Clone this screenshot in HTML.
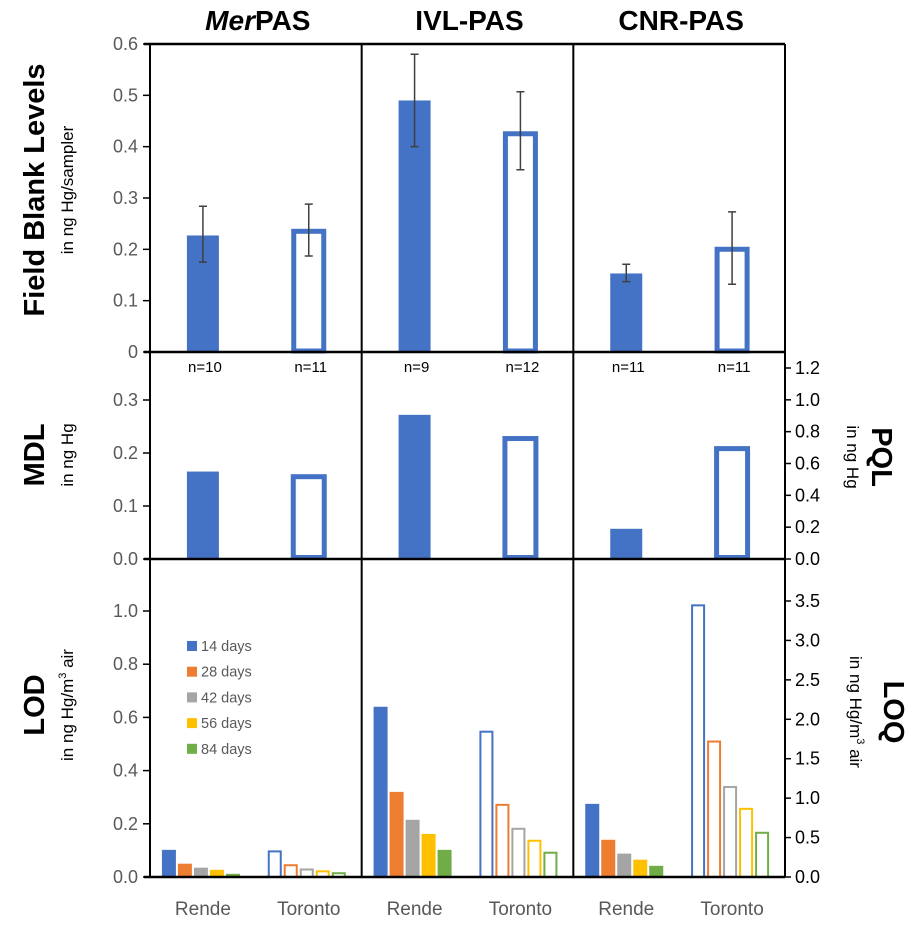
<!DOCTYPE html>
<html><head><meta charset="utf-8"><style>
html,body{margin:0;padding:0;background:#fff;}
svg{display:block;font-family:"Liberation Sans",sans-serif;}
</style></head><body>
<svg id="c" width="920" height="925" viewBox="0 0 920 925" xmlns="http://www.w3.org/2000/svg"></svg>
<script>
const samplers = ["MerPAS","IVL-PAS","CNR-PAS"];
const sites = ["Rende","Toronto"];
const blankMean = [[0.227,0.240],[0.490,0.430],[0.153,0.205]];
const blankLow = [[0.175,0.187],[0.400,0.355],[0.137,0.132]];
const blankHigh = [[0.284,0.288],[0.580,0.507],[0.171,0.273]];
const blankN = [["n=10","n=11"],["n=9","n=12"],["n=11","n=11"]];
const mdl = [[0.165,0.160],[0.272,0.232],[0.057,0.213]];
const durations = ["14 days","28 days","42 days","56 days","84 days"];
const lodRende = [[0.102,0.050,0.035,0.027,0.012],[0.640,0.320,0.215,0.162,0.102],[0.275,0.140,0.088,0.065,0.042]];
const lodToronto = [[0.100,0.048,0.032,0.025,0.018],[0.550,0.275,0.185,0.140,0.095],[1.025,0.513,0.342,0.260,0.170]];
const ticksTop = [0,0.1,0.2,0.3,0.4,0.5,0.6];
const ticksMid = [0,0.1,0.2,0.3];
const ticksPQL = [0,0.2,0.4,0.6,0.8,1.0,1.2];
const ticksBot = [0,0.2,0.4,0.6,0.8,1.0];
const ticksLOQ = [0,0.5,1.0,1.5,2.0,2.5,3.0,3.5];

const colors = ["#4472C4","#ED7D31","#A5A5A5","#FFC000","#70AD47"];
const NS="http://www.w3.org/2000/svg";
const svg=document.getElementById('c');
function mk(tag,attrs,parent){const e=document.createElementNS(NS,tag);for(const k in attrs)e.setAttribute(k,attrs[k]);(parent||svg).appendChild(e);return e;}
function txt(s,attrs){const e=mk('text',attrs);e.textContent=s;return e;}

const L=150,R=785,colW=(R-L)/3;
const yTop=v=>352-v/0.6*308;
const yMid=v=>559-v/0.3*159;
const yPQL=v=>559-v/1.2*191;
const yBot=v=>877-v/1.0*266;
const yLOQ=v=>877-v/3.5*276;
const catX=(c,s)=>L+c*colW+colW*(s===0?0.25:0.75);

for(let c=0;c<3;c++){
  for(let s=0;s<2;s++){
    const cx=catX(c,s),v=blankMean[c][s],y=yTop(v);
    let b;
    if(s===0){b=mk('rect',{x:cx-16,y:y,width:32,height:352-y,fill:colors[0]});}
    else{b=mk('rect',{x:cx-15,y:y+2.5,width:30,height:352-y-3.5,fill:'none',stroke:colors[0],'stroke-width':5});}
    
    
    const eb=mk('path',{d:`M${cx},${yTop(blankLow[c][s])}V${yTop(blankHigh[c][s])}M${cx-4},${yTop(blankLow[c][s])}h8M${cx-4},${yTop(blankHigh[c][s])}h8`,stroke:'#404040','stroke-width':1.5,fill:'none'});
    
    
    const n=txt(blankN[c][s],{x:cx+2,y:372,'font-size':15,'text-anchor':'middle',fill:'#000'});
    
    
  }
}
for(let c=0;c<3;c++){
  for(let s=0;s<2;s++){
    const cx=catX(c,s),y=yMid(mdl[c][s]);
    let b;
    if(s===0){b=mk('rect',{x:cx-16,y:y,width:32,height:559-y,fill:colors[0]});}
    else{b=mk('rect',{x:cx-15.5,y:y+2.5,width:31,height:559-y-4,fill:'none',stroke:colors[0],'stroke-width':5});}
    
    
  }
}
for(let c=0;c<3;c++){
  for(let s=0;s<2;s++){
    const arr=s===0?lodRende[c]:lodToronto[c];
    const cx=catX(c,s)-1;
    for(let k=0;k<5;k++){
      const x=cx-40+k*16,y=yBot(arr[k]);
      let b;
      if(s===0){b=mk('rect',{x:x,y:y,width:14,height:877-y,fill:colors[k]});}
      else{b=mk('rect',{x:x+1,y:y+1,width:12,height:877-y-1,fill:'none',stroke:colors[k],'stroke-width':2});}
      
      
    }
    const lab=txt(sites[s],{x:catX(c,s),y:915,'font-size':19,'text-anchor':'middle',fill:'#595959'});
    
    
  }
}
mk('path',{d:`M144,44H785M144,352H785M144,559H785M144,877H785`,stroke:'#000','stroke-width':2.5,fill:'none',});
mk('path',{d:`M${L},44V877M${L+colW},44V877M${L+2*colW},44V877M${R},44V877`,stroke:'#000','stroke-width':2,fill:'none',});
function leftTicks(ticks,yf,fmt,name){
  ticks.forEach(t=>{
    const y=yf(t);
    mk('line',{x1:143,y1:y,x2:150,y2:y,stroke:'#000','stroke-width':1.5});
    const e=txt(fmt(t),{x:138,y:y+6,'font-size':18,'text-anchor':'end',fill:'#595959'});
    
    
  });
}
leftTicks(ticksTop,yTop,t=>t===0?'0':t.toFixed(1),'y-tick-blank');
leftTicks(ticksMid,yMid,t=>t.toFixed(1),'y-tick-mdl');
leftTicks(ticksBot,yBot,t=>t.toFixed(1),'y-tick-lod');
function rightTicks(ticks,yf,name){
  ticks.forEach(t=>{
    const y=yf(t);
    mk('line',{x1:785,y1:y,x2:791,y2:y,stroke:'#000','stroke-width':1.5});
    const e=txt(t.toFixed(1),{x:795,y:y+6,'font-size':18,fill:'#000'});
    
    
  });
}
rightTicks(ticksPQL,yPQL,'y-tick-pql');
rightTicks(ticksLOQ,yLOQ,'y-tick-loq');
const tt=[['MerPAS',true],['IVL-PAS',false],['CNR-PAS',false]];
tt.forEach((t,c)=>{
  const e=mk('text',{x:L+c*colW+colW/2+2,y:30,'font-size':28,'font-weight':'bold','text-anchor':'middle',fill:'#000'});
  
  
  if(t[1]){const a=mk('tspan',{'font-style':'italic'},e);a.textContent='Mer';const b=mk('tspan',{},e);b.textContent='PAS';}
  else e.textContent=t[0];
});
function vtitle(s,x,y,size,bold,rot,name){
  const e=txt(s,{x:0,y:0,'font-size':size,'font-weight':bold?'bold':'normal','text-anchor':'middle',fill:'#000',transform:`translate(${x},${y}) rotate(${rot})`});
  
  
  return e;
}
vtitle('Field Blank Levels',44,190,29,true,-90,'y-axis-title-blank');
vtitle('in ng Hg/sampler',73,190,17,false,-90,'y-axis-unit-blank');
vtitle('MDL',44,455,29,true,-90,'y-axis-title-mdl');
vtitle('in ng Hg',73,455,17,false,-90,'y-axis-unit-mdl');
vtitle('LOD',44,705,29,true,-90,'y-axis-title-lod');
const u=vtitle('',73,705,17,false,-90,'y-axis-unit-lod');
u.innerHTML='in ng Hg/m<tspan dy="-7" font-size="11">3</tspan><tspan dy="7"> air</tspan>';
vtitle('PQL',872,457,29,true,90,'y-axis-title-pql');
vtitle('in ng Hg',847,457,17,false,90,'y-axis-unit-pql');
vtitle('LOQ',884,712,29,true,90,'y-axis-title-loq');
const u2=vtitle('',850,712,17,false,90,'y-axis-unit-loq');
u2.innerHTML='in ng Hg/m<tspan dy="-7" font-size="11">3</tspan><tspan dy="7"> air</tspan>';
durations.forEach((d,k)=>{
  const y=641+k*25.7;
  const r=mk('rect',{x:187,y:y,width:10,height:10,fill:colors[k]});
  
  
  const e=txt(d,{x:201,y:y+10,'font-size':14.5,fill:'#595959'});
  
  
});
</script>
</body></html>
